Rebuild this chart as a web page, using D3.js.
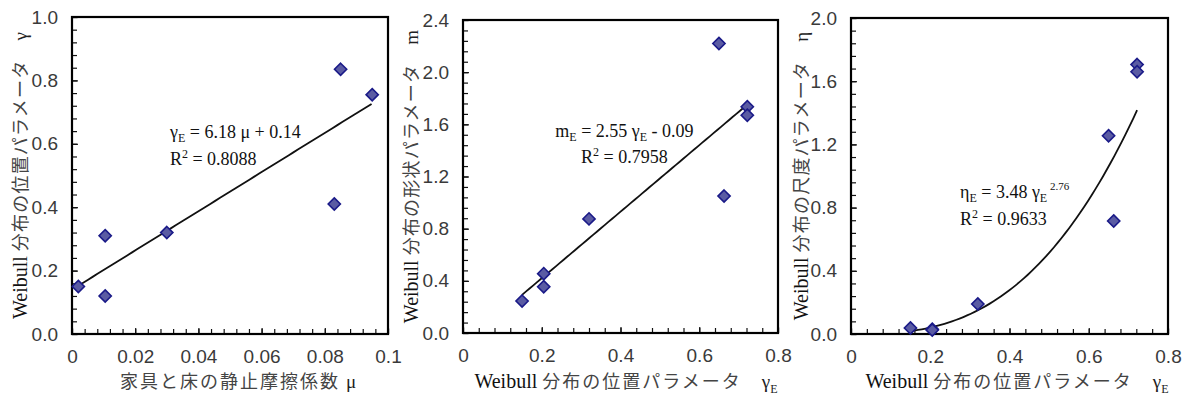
<!DOCTYPE html>
<html>
<head>
<meta charset="utf-8">
<script src="https://cdn.jsdelivr.net/npm/d3@7"></script>
<style>
  body { margin: 0; background: #fff; }
  svg { display: block; }
</style>
</head>
<body>
<div id="chart"></div>
<script>
// panel 1: friction coefficient vs location parameter
const muValues = [0.002, 0.0105, 0.0105, 0.030, 0.083, 0.085, 0.095];
const gammaValues = [0.15, 0.31, 0.12, 0.32, 0.41, 0.835, 0.755];
const muTicks = [0, 0.02, 0.04, 0.06, 0.08, 0.1];
const muTickLabels = ['0', '0.02', '0.04', '0.06', '0.08', '0.1'];
const gammaTicks = [0, 0.2, 0.4, 0.6, 0.8, 1.0];

// panels 2 and 3 share the location parameter on x
const gammaE = [0.15, 0.205, 0.205, 0.32, 0.65, 0.663, 0.722, 0.722];
const shapeM = [0.245, 0.455, 0.355, 0.875, 2.22, 1.05, 1.735, 1.67];
const scaleEta = [0.038, 0.03, 0.025, 0.19, 1.255, 0.715, 1.705, 1.66];
const gammaETicks = [0, 0.2, 0.4, 0.6, 0.8];
const gammaETickLabels = ['0', '0.2', '0.4', '0.6', '0.8'];
const mTicks = [0, 0.4, 0.8, 1.2, 1.6, 2.0, 2.4];
const etaTicks = [0, 0.4, 0.8, 1.2, 1.6, 2.0];

const svg = d3.select('#chart').append('svg')
    .attr('width', 1192)
    .attr('height', 398);

const serif = '"Liberation Serif", "Times New Roman", serif';
const sans = '"Liberation Sans", Arial, sans-serif';
const jp = '"Noto Sans CJK JP", sans-serif';

function addParts(textSel, parts, spacing) {
  parts.forEach(part => {
    textSel.append('tspan')
        .attr('dy', part.dy || 0)
        .style('font-family', part.f)
        .style('font-size', part.size || '18px')
        .style('letter-spacing', part.f === jp ? spacing : '0px')
        .attr('fill', part.c || '#444')
        .text(part.t);
  });
}

function drawPanel(p) {
  const x = d3.scaleLinear().domain(p.xDomain).range([p.left, p.right]);
  const y = d3.scaleLinear().domain(p.yDomain).range([p.bottom, p.top]);
  const g = svg.append('g');

  // minor ticks (no labels)
  const xMinor = d3.range(0, p.xDomain[1] + 1e-9, p.xMinorStep);
  const yMinor = d3.range(0, p.yDomain[1] + 1e-9, p.yMinorStep);

  g.append('g')
      .attr('transform', `translate(0,${p.bottom})`)
      .call(d3.axisBottom(x).tickValues(xMinor).tickSize(-5).tickFormat(''))
      .call(a => a.select('.domain').remove());
  g.append('g')
      .attr('transform', `translate(${p.left},0)`)
      .call(d3.axisLeft(y).tickValues(yMinor).tickSize(-5).tickFormat(''))
      .call(a => a.select('.domain').remove());

  // major ticks with labels
  const xAxis = g.append('g')
      .attr('transform', `translate(0,${p.bottom})`)
      .call(d3.axisBottom(x).tickValues(p.xTicks).tickSize(-6).tickPadding(16)
          .tickFormat((d, i) => p.xTickLabels[i]));
  const yAxis = g.append('g')
      .attr('transform', `translate(${p.left},0)`)
      .call(d3.axisLeft(y).tickValues(p.yTicks).tickSize(-6).tickPadding(14)
          .tickFormat(d => d.toFixed(1)));
  [xAxis, yAxis].forEach(a => {
    a.select('.domain').remove();
    a.selectAll('text')
        .style('font-family', sans)
        .style('font-size', '19px')
        .attr('fill', '#3a3a3a');
  });
  g.selectAll('.tick line').attr('stroke', '#111').attr('stroke-width', 1.2);

  // frame
  g.append('rect')
      .attr('x', p.left).attr('y', p.top)
      .attr('width', p.right - p.left).attr('height', p.bottom - p.top)
      .attr('fill', 'none').attr('stroke', '#000').attr('stroke-width', 2.2);

  // fitted curve
  const fitX = d3.range(p.fitRange[0], p.fitRange[1] + 1e-9, (p.fitRange[1] - p.fitRange[0]) / 60);
  g.append('path')
      .datum(fitX)
      .attr('fill', 'none')
      .attr('stroke', '#111')
      .attr('stroke-width', 1.8)
      .attr('d', d3.line().x(d => x(d)).y(d => y(p.fit(d))));

  // markers
  const diamond = d3.symbol().type(d3.symbolDiamond2).size(95);
  g.selectAll('.pt')
      .data(p.xs.map((v, i) => [v, p.ys[i]]))
      .enter().append('path')
      .attr('class', 'pt')
      .attr('transform', d => `translate(${x(d[0])},${y(d[1])})`)
      .attr('d', diamond)
      .attr('fill', '#5a5ba3')
      .attr('stroke', '#1a1a88')
      .attr('stroke-width', 1.6);

  // equation
  const eq = g.append('text')
      .attr('x', x(p.eqAt[0])).attr('y', y(p.eqAt[1]))
      .attr('text-anchor', p.eqAnchor)
      .style('font-family', serif).style('font-size', '18px').attr('fill', '#111');
  p.eqParts.forEach(part => {
    eq.append('tspan')
        .attr('dy', part.dy || 0)
        .style('font-size', part.size || '18px')
        .text(part.t);
  });
  const r2 = g.append('text')
      .attr('x', x(p.r2At[0])).attr('y', y(p.r2At[1]))
      .attr('text-anchor', p.eqAnchor)
      .style('font-family', serif).style('font-size', '18px').attr('fill', '#111');
  r2.append('tspan').text('R');
  r2.append('tspan').attr('dy', -7).style('font-size', '12px').text('2');
  r2.append('tspan').attr('dy', 7).text(' = ' + p.r2);

  // x title
  const xt = g.append('text')
      .attr('x', p.xTitleX).attr('y', 388)
      .attr('text-anchor', 'middle');
  addParts(xt, p.xTitle, '2px');

  // y title
  const cy = (p.top + p.bottom) / 2;
  const yt = g.append('text')
      .attr('transform', `translate(${p.yTitleX},${cy}) rotate(-90)`)
      .attr('text-anchor', 'middle');
  addParts(yt, p.yTitle, '1.2px');
}

const weibullX = [
  {t: 'Weibull ', f: serif, c: '#111', size: '20px'},
  {t: '分布の位置パラメータ　', f: jp},
  {t: 'γ', f: serif, c: '#222', size: '19px'},
  {t: 'E', f: serif, c: '#222', size: '12px', dy: 5}
];

drawPanel({
  left: 72, right: 388, top: 17, bottom: 334,
  xDomain: [0, 0.1], yDomain: [0, 1.0],
  xTicks: muTicks, xTickLabels: muTickLabels, yTicks: gammaTicks,
  xMinorStep: 0.004, yMinorStep: 0.04,
  xs: muValues, ys: gammaValues,
  fit: v => 6.18 * v + 0.14, fitRange: [0.002, 0.0948],
  eqAt: [0.031, 0.617], r2At: [0.031, 0.532], eqAnchor: 'start',
  eqParts: [
    {t: 'γ'}, {t: 'E', size: '12px', dy: 4}, {t: ' = 6.18 μ + 0.14', dy: -4}
  ],
  r2: '0.8088',
  xTitleX: 238,
  xTitle: [{t: '家具と床の静止摩擦係数 ', f: jp}, {t: ' μ', f: serif, c: '#222', size: '19px'}],
  yTitleX: 27,
  yTitle: [
    {t: 'Weibull ', f: serif, c: '#111', size: '20px'},
    {t: '分布の位置パラメータ　', f: jp},
    {t: 'γ', f: serif, c: '#222', size: '19px'}
  ]
});

drawPanel({
  left: 463, right: 778, top: 20, bottom: 333,
  xDomain: [0, 0.8], yDomain: [0, 2.4],
  xTicks: gammaETicks, xTickLabels: gammaETickLabels, yTicks: mTicks,
  xMinorStep: 0.04, yMinorStep: 0.08,
  xs: gammaE, ys: shapeM,
  fit: v => 2.55 * v - 0.09, fitRange: [0.15, 0.722],
  eqAt: [0.41, 1.5], r2At: [0.41, 1.3], eqAnchor: 'middle',
  eqParts: [
    {t: 'm'}, {t: 'E', size: '12px', dy: 4}, {t: ' = 2.55 γ', dy: -4},
    {t: 'E', size: '12px', dy: 4}, {t: ' - 0.09', dy: -4}
  ],
  r2: '0.7958',
  xTitleX: 626,
  xTitle: weibullX,
  yTitleX: 418,
  yTitle: [
    {t: 'Weibull ', f: serif, c: '#111', size: '20px'},
    {t: '分布の形状パラメータ　', f: jp},
    {t: 'm', f: serif, c: '#222', size: '19px'}
  ]
});

drawPanel({
  left: 851, right: 1168, top: 18, bottom: 334,
  xDomain: [0, 0.8], yDomain: [0, 2.0],
  xTicks: gammaETicks, xTickLabels: gammaETickLabels, yTicks: etaTicks,
  xMinorStep: 0.04, yMinorStep: 0.08,
  xs: gammaE, ys: scaleEta,
  fit: v => 3.48 * Math.pow(v, 2.76), fitRange: [0.15, 0.722],
  eqAt: [0.275, 0.86], r2At: [0.275, 0.69], eqAnchor: 'start',
  eqParts: [
    {t: 'η'}, {t: 'E', size: '12px', dy: 4}, {t: ' = 3.48 γ', dy: -4},
    {t: 'E', size: '12px', dy: 4}, {t: ' 2.76', size: '11px', dy: -12}
  ],
  r2: '0.9633',
  xTitleX: 1017,
  xTitle: weibullX,
  yTitleX: 808,
  yTitle: [
    {t: 'Weibull ', f: serif, c: '#111', size: '20px'},
    {t: '分布の尺度パラメータ　', f: jp},
    {t: 'η', f: serif, c: '#222', size: '19px'}
  ]
});
</script>
</body>
</html>
